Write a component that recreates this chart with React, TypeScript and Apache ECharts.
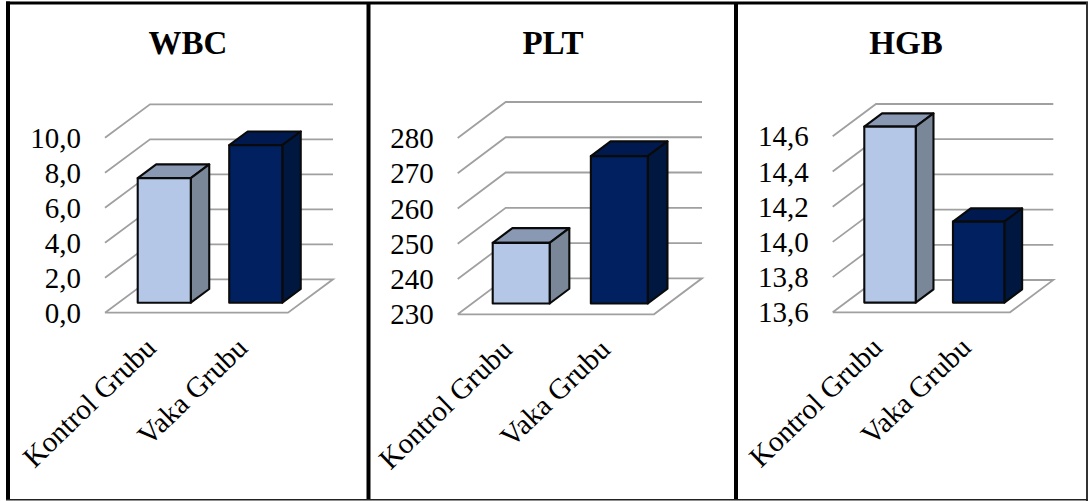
import React, { useEffect, useRef } from "react";
import * as echarts from "echarts";

const categories = ["Kontrol Grubu", "Vaka Grubu"];
const wbcValues = [7.12, 9.0];
const pltValues = [247.2, 271.8];
const hgbValues = [14.6, 14.06];
const wbcTicks = [0, 2, 4, 6, 8, 10];
const pltTicks = [230, 240, 250, 260, 270, 280];
const hgbTicks = [13.6, 13.8, 14.0, 14.2, 14.4, 14.6];

const SERIF = "'Liberation Serif', 'Times New Roman', serif";
const GRID_COLOR = "#a0a0a0";
const EDGE_COLOR = "#0a0a0a";
// front, top and side faces of the light and the dark column
const FACE_COLORS = [
  ["#b4c7e7", "#8a99b3", "#7a8799"],
  ["#002060", "#001a4f", "#001740"],
];

// Pixel layout of each panel: the grid is the front plane of the 3D box,
// depthX/depthY is how far the back wall is pushed up and to the right.
const panels = [
  { title: "WBC", titleX: 188, values: wbcValues, ticks: wbcTicks, digits: 1, left: 105, right: 288, bottom: 312.7, height: 175, depthX: 45, depthY: 33.4 },
  { title: "PLT", titleX: 553, values: pltValues, ticks: pltTicks, digits: 0, left: 457.7, right: 654, bottom: 314.3, height: 176.3, depthX: 48, depthY: 36 },
  { title: "HGB", titleX: 906, values: hgbValues, ticks: hgbTicks, digits: 1, left: 832.7, right: 1010, bottom: 312.3, height: 176, depthX: 43.3, depthY: 32.3 },
];
const BAR_RATIO = 0.58;
const BAR_OFFSET = 0.3; // how far into the box the column stands
const BAR_DEPTH = 0.41; // column depth as a share of the box depth

// Outer frame and the dividers between the panels.
const frameLines = [
  { x1: 8, y1: 1.5, x2: 8, y2: 500, width: 4, color: "#000" },
  { x1: 6, y1: 3, x2: 1088, y2: 3, width: 3, color: "#000" },
  { x1: 368.5, y1: 2, x2: 368.5, y2: 500, width: 4, color: "#000" },
  { x1: 736, y1: 2, x2: 736, y2: 500, width: 4, color: "#000" },
  { x1: 1087, y1: 2, x2: 1087, y2: 501, width: 2, color: "#333" },
  { x1: 6, y1: 499.7, x2: 1088, y2: 499.7, width: 1.6, color: "#222" },
];

function buildOption() {
  const series: any[] = [];
  panels.forEach((p, idx) => {
    const lineStyle = { stroke: GRID_COLOR, lineWidth: 1.8, fill: "none" };
    // Side wall, back wall and floor outline, one polyline per axis tick.
    series.push({
      type: "custom",
      xAxisIndex: idx,
      yAxisIndex: idx,
      silent: true,
      clip: false,
      z: 2,
      data: p.ticks.map((t) => [0, t]),
      encode: { x: 0, y: 1 },
      renderItem: (params: any, api: any) => {
        const [x0, y] = api.coord([0, api.value(1)]);
        const band = api.size([1, 0])[0];
        const left = x0 - band / 2;
        const width = band * 2;
        const pts: number[][] = [
          [left, y],
          [left + p.depthX, y - p.depthY],
          [left + p.depthX + width, y - p.depthY],
        ];
        if (params.dataIndex === 0) {
          pts.push([left + width, y], [left, y]);
        }
        return { type: "polyline", shape: { points: pts }, style: lineStyle };
      },
    });
    // Columns: front, top and side face from the value scale.
    series.push({
      type: "custom",
      xAxisIndex: idx,
      yAxisIndex: idx,
      silent: true,
      clip: false,
      z: 3,
      data: p.values.map((v, i) => [i, v]),
      encode: { x: 0, y: 1 },
      renderItem: (params: any, api: any) => {
        const i = params.dataIndex;
        const [cx, yTop] = api.coord([api.value(0), api.value(1)]);
        const [, yBase] = api.coord([api.value(0), p.ticks[0]]);
        const w = api.size([1, 0])[0] * BAR_RATIO;
        const ox = p.depthX * BAR_OFFSET;
        const oy = p.depthY * BAR_OFFSET;
        const dx = p.depthX * BAR_DEPTH;
        const dy = p.depthY * BAR_DEPTH;
        const l = cx + ox - w / 2;
        const r = l + w;
        const t = yTop - oy;
        const b = yBase - oy;
        const [front, top, side] = FACE_COLORS[i];
        const edge = { stroke: EDGE_COLOR, lineWidth: 2.1, lineJoin: "round" };
        return {
          type: "group",
          children: [
            { type: "polygon", shape: { points: [[l, t], [r, t], [r + dx, t - dy], [l + dx, t - dy]] }, style: { fill: top, ...edge } },
            { type: "polygon", shape: { points: [[r, t], [r + dx, t - dy], [r + dx, b - dy], [r, b]] }, style: { fill: side, ...edge } },
            { type: "rect", shape: { x: l, y: t, width: w, height: b - t }, style: { fill: front, ...edge } },
          ],
        };
      },
    });
  });

  return {
    animation: false,
    backgroundColor: "#ffffff",
    title: panels.map((p) => ({
      text: p.title,
      left: p.titleX,
      top: 26,
      padding: 0,
      textAlign: "center",
      textStyle: { fontFamily: SERIF, fontSize: 33, fontWeight: "bold", color: "#000" },
    })),
    grid: panels.map((p) => ({
      left: p.left,
      top: p.bottom - p.height,
      width: p.right - p.left,
      height: p.height,
    })),
    xAxis: panels.map((_, idx) => ({
      type: "category",
      gridIndex: idx,
      data: categories,
      axisLine: { show: false },
      axisTick: { show: false },
      axisLabel: {
        rotate: 44,
        interval: 0,
        margin: 30,
        fontFamily: SERIF,
        fontSize: 29,
        color: "#000",
      },
    })),
    yAxis: panels.map((p, idx) => ({
      type: "value",
      gridIndex: idx,
      min: p.ticks[0],
      max: p.ticks[p.ticks.length - 1],
      interval: p.ticks[1] - p.ticks[0],
      axisLine: { show: false },
      axisTick: { show: false },
      splitLine: { show: false },
      axisLabel: {
        margin: 24,
        fontFamily: SERIF,
        fontSize: 29,
        color: "#000",
        formatter: (v: number) => v.toFixed(p.digits).replace(".", ","),
      },
    })),
    series,
    graphic: frameLines.map((f) => ({
      type: "line",
      silent: true,
      z: 10,
      shape: { x1: f.x1, y1: f.y1, x2: f.x2, y2: f.y2 },
      style: { stroke: f.color, lineWidth: f.width },
    })),
  };
}

export default function App() {
  const ref = useRef<HTMLDivElement>(null);
  useEffect(() => {
    const chart = echarts.init(ref.current!, undefined, { renderer: "svg" });
    chart.setOption(buildOption() as any);
    return () => chart.dispose();
  }, []);
  return <div ref={ref} style={{ position: "absolute", left: 0, top: 0, width: 1088, height: 501 }} />;
}
